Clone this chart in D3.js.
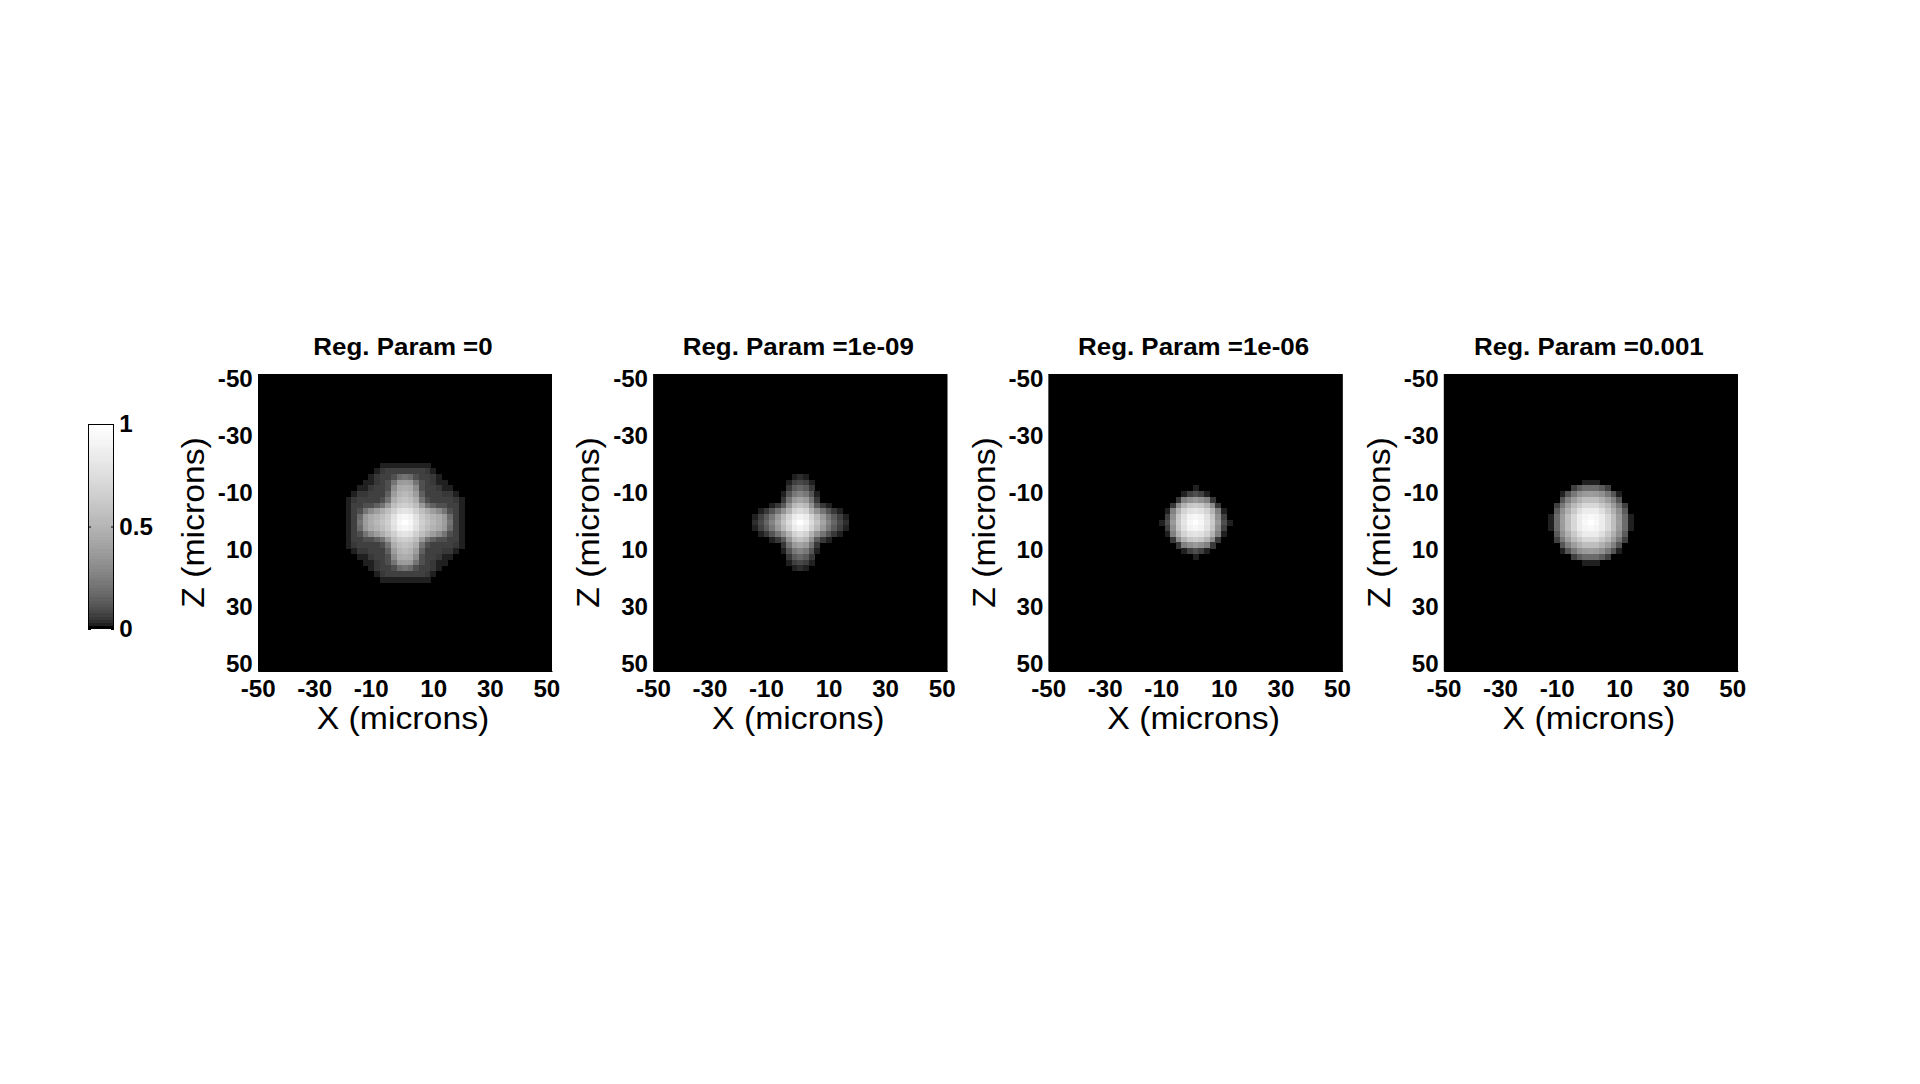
<!DOCTYPE html>
<html><head><meta charset="utf-8">
<script src="https://cdn.jsdelivr.net/npm/d3@7"></script>
<style>
html,body{margin:0;padding:0;background:#fff;}
svg{display:block;}
text{font-family:"Liberation Sans",Arial,Helvetica,sans-serif;}
</style></head><body>
<svg id="chart" width="1920" height="1084"></svg>
<script>
// ---------------- data ----------------
const regParams = ["0", "1e-09", "1e-06", "0.001"];
const axisTicks = [-50, -30, -10, 10, 30, 50];
const colorbarTicks = [0, 0.5, 1];
const imageExtent = [-52, 52];          // microns covered by each image
const cellCenters = [-20,-18,-16,-14,-12,-10,-8,-6,-4,-2,0,2,4,6,8,10,12,14,16,18,20];
const cellSize = 2;                      // microns per cell
// intensity (percent of max), rows = Z from -20 to 20, cols = X from -20 to 20; zero elsewhere
const psfRegZero = [
 [0,0,0,0,0,0,1,1,2,2,2,2,2,1,1,0,0,0,0,0,0],
 [0,0,0,0,0,1,4,6,6,7,7,7,6,6,4,1,0,0,0,0,0],
 [0,0,0,0,1,4,6,7,10,18,20,18,10,7,6,4,1,0,0,0,0],
 [0,0,0,1,2,5,6,9,20,36,38,36,20,9,6,5,2,1,0,0,0],
 [0,0,1,2,4,6,7,10,30,44,46,44,30,10,7,6,4,2,1,0,0],
 [0,1,4,5,6,6,7,14,38,49,52,49,38,14,7,6,6,5,4,1,0],
 [1,4,6,6,7,7,9,20,46,55,58,55,46,20,9,7,7,6,6,4,1],
 [1,6,7,9,10,14,20,36,55,64,67,64,55,36,20,14,10,9,7,6,1],
 [2,6,10,20,30,38,46,55,67,77,81,77,67,55,46,38,30,20,10,6,2],
 [2,7,18,36,44,49,55,64,77,90,94,90,77,64,55,49,44,36,18,7,2],
 [2,7,20,38,46,52,58,67,81,94,100,94,81,67,58,52,46,38,20,7,2],
 [2,7,18,36,44,49,55,64,77,90,94,90,77,64,55,49,44,36,18,7,2],
 [2,6,10,20,30,38,46,55,67,77,81,77,67,55,46,38,30,20,10,6,2],
 [1,6,7,9,10,14,20,36,55,64,67,64,55,36,20,14,10,9,7,6,1],
 [1,4,6,6,7,7,9,20,46,55,58,55,46,20,9,7,7,6,6,4,1],
 [0,1,4,5,6,6,7,14,38,49,52,49,38,14,7,6,6,5,4,1,0],
 [0,0,1,2,4,6,7,10,30,44,46,44,30,10,7,6,4,2,1,0,0],
 [0,0,0,1,2,5,6,9,20,36,38,36,20,9,6,5,2,1,0,0,0],
 [0,0,0,0,1,4,6,7,10,18,20,18,10,7,6,4,1,0,0,0,0],
 [0,0,0,0,0,1,4,6,6,7,7,7,6,6,4,1,0,0,0,0,0],
 [0,0,0,0,0,0,1,1,2,2,2,2,2,1,1,0,0,0,0,0,0]
];
const psfReg1e9 = [
 [0,0,0,0,0,0,0,0,0,0,0,0,0,0,0,0,0,0,0,0,0],
 [0,0,0,0,0,0,0,0,0,0,0,0,0,0,0,0,0,0,0,0,0],
 [0,0,0,0,0,0,0,0,0,2,3,2,0,0,0,0,0,0,0,0,0],
 [0,0,0,0,0,0,0,0,1,6,8,6,1,0,0,0,0,0,0,0,0],
 [0,0,0,0,0,0,0,0,5,13,16,13,5,0,0,0,0,0,0,0,0],
 [0,0,0,0,0,0,0,1,11,23,27,23,11,1,0,0,0,0,0,0,0],
 [0,0,0,0,0,0,0,5,20,36,41,36,20,5,0,0,0,0,0,0,0],
 [0,0,0,0,0,1,5,12,34,53,58,53,34,12,5,1,0,0,0,0,0],
 [0,0,0,1,5,11,20,34,49,69,74,69,49,34,20,11,5,1,0,0,0],
 [0,0,2,6,13,23,36,53,69,85,90,85,69,53,36,23,13,6,2,0,0],
 [0,0,3,8,16,27,41,58,74,90,100,90,74,58,41,27,16,8,3,0,0],
 [0,0,2,6,13,23,36,53,69,85,90,85,69,53,36,23,13,6,2,0,0],
 [0,0,0,1,5,11,20,34,49,69,74,69,49,34,20,11,5,1,0,0,0],
 [0,0,0,0,0,1,5,12,34,53,58,53,34,12,5,1,0,0,0,0,0],
 [0,0,0,0,0,0,0,5,20,36,41,36,20,5,0,0,0,0,0,0,0],
 [0,0,0,0,0,0,0,1,11,23,27,23,11,1,0,0,0,0,0,0,0],
 [0,0,0,0,0,0,0,0,5,13,16,13,5,0,0,0,0,0,0,0,0],
 [0,0,0,0,0,0,0,0,1,6,8,6,1,0,0,0,0,0,0,0,0],
 [0,0,0,0,0,0,0,0,0,2,3,2,0,0,0,0,0,0,0,0,0],
 [0,0,0,0,0,0,0,0,0,0,0,0,0,0,0,0,0,0,0,0,0],
 [0,0,0,0,0,0,0,0,0,0,0,0,0,0,0,0,0,0,0,0,0]
];
const psfReg1e6 = [
 [0,0,0,0,0,0,0,0,0,0,0,0,0,0,0,0,0,0,0,0,0],
 [0,0,0,0,0,0,0,0,0,0,0,0,0,0,0,0,0,0,0,0,0],
 [0,0,0,0,0,0,0,0,0,0,0,0,0,0,0,0,0,0,0,0,0],
 [0,0,0,0,0,0,0,0,0,0,0,0,0,0,0,0,0,0,0,0,0],
 [0,0,0,0,0,0,0,0,0,0,1,0,0,0,0,0,0,0,0,0,0],
 [0,0,0,0,0,0,0,0,1,7,9,7,1,0,0,0,0,0,0,0,0],
 [0,0,0,0,0,0,0,4,25,32,36,32,25,4,0,0,0,0,0,0,0],
 [0,0,0,0,0,0,4,30,49,61,64,61,49,30,4,0,0,0,0,0,0],
 [0,0,0,0,0,1,25,49,69,77,81,77,69,49,25,1,0,0,0,0,0],
 [0,0,0,0,0,7,32,61,77,90,94,90,77,61,32,7,0,0,0,0,0],
 [0,0,0,0,1,9,36,64,81,94,100,94,81,64,36,9,1,0,0,0,0],
 [0,0,0,0,0,7,32,61,77,90,94,90,77,61,32,7,0,0,0,0,0],
 [0,0,0,0,0,1,25,49,69,77,81,77,69,49,25,1,0,0,0,0,0],
 [0,0,0,0,0,0,4,30,49,61,64,61,49,30,4,0,0,0,0,0,0],
 [0,0,0,0,0,0,0,4,25,32,36,32,25,4,0,0,0,0,0,0,0],
 [0,0,0,0,0,0,0,0,1,7,9,7,1,0,0,0,0,0,0,0,0],
 [0,0,0,0,0,0,0,0,0,0,1,0,0,0,0,0,0,0,0,0,0],
 [0,0,0,0,0,0,0,0,0,0,0,0,0,0,0,0,0,0,0,0,0],
 [0,0,0,0,0,0,0,0,0,0,0,0,0,0,0,0,0,0,0,0,0],
 [0,0,0,0,0,0,0,0,0,0,0,0,0,0,0,0,0,0,0,0,0],
 [0,0,0,0,0,0,0,0,0,0,0,0,0,0,0,0,0,0,0,0,0]
];
const psfReg1e3 = [
 [0,0,0,0,0,0,0,0,0,0,0,0,0,0,0,0,0,0,0,0,0],
 [0,0,0,0,0,0,0,0,0,0,0,0,0,0,0,0,0,0,0,0,0],
 [0,0,0,0,0,0,0,0,0,0,0,0,0,0,0,0,0,0,0,0,0],
 [0,0,0,0,0,0,0,0,0,1,1,1,0,0,0,0,0,0,0,0,0],
 [0,0,0,0,0,0,0,6,12,17,18,17,12,6,0,0,0,0,0,0,0],
 [0,0,0,0,0,1,11,22,31,36,38,36,31,22,11,1,0,0,0,0,0],
 [0,0,0,0,0,11,25,38,48,55,56,55,48,38,25,11,0,0,0,0,0],
 [0,0,0,0,6,22,38,52,62,71,72,71,62,52,38,22,6,0,0,0,0],
 [0,0,0,0,12,31,48,62,76,85,86,85,76,62,48,31,12,0,0,0,0],
 [0,0,0,1,17,36,55,71,85,92,96,92,85,71,55,36,17,1,0,0,0],
 [0,0,0,1,18,38,56,72,86,96,100,96,86,72,56,38,18,1,0,0,0],
 [0,0,0,1,17,36,55,71,85,92,96,92,85,71,55,36,17,1,0,0,0],
 [0,0,0,0,12,31,48,62,76,85,86,85,76,62,48,31,12,0,0,0,0],
 [0,0,0,0,6,22,38,52,62,71,72,71,62,52,38,22,6,0,0,0,0],
 [0,0,0,0,0,11,25,38,48,55,56,55,48,38,25,11,0,0,0,0,0],
 [0,0,0,0,0,1,11,22,31,36,38,36,31,22,11,1,0,0,0,0,0],
 [0,0,0,0,0,0,0,6,12,17,18,17,12,6,0,0,0,0,0,0,0],
 [0,0,0,0,0,0,0,0,0,1,1,1,0,0,0,0,0,0,0,0,0],
 [0,0,0,0,0,0,0,0,0,0,0,0,0,0,0,0,0,0,0,0,0],
 [0,0,0,0,0,0,0,0,0,0,0,0,0,0,0,0,0,0,0,0,0],
 [0,0,0,0,0,0,0,0,0,0,0,0,0,0,0,0,0,0,0,0,0]
];
const panelGrids = [psfRegZero, psfReg1e9, psfReg1e6, psfReg1e3];

// ---------------- layout ----------------
const svg = d3.select("#chart");
const firstLeft = 258, panelStep = 395.3, panelW = 294, panelTop = 374, panelH = 297;
const tickFont = 23, tickStretch = 1.05;
const titleFont = 24, titleStretch = 1.08;
const labelFont = 31, labelStretch = 1.09;
const nLevels = 64;

// MATLAB-like quantised colormap (square-root gray)
const grayLevel = v => {
  const k = Math.max(0, Math.min(nLevels - 1, Math.round(v * (nLevels - 1))));
  return Math.round(255 * Math.sqrt(k / (nLevels - 1)));
};
const grayColor = v => { const g = grayLevel(v); return `rgb(${g},${g},${g})`; };

function styleTicks(sel) {
  sel.attr("font-size", tickFont)
     .attr("font-family", '"Liberation Sans", Arial, sans-serif')
     .attr("font-weight", "bold");
}

panelGrids.forEach((grid, p) => {
  const left = firstLeft + p * panelStep;
  const x = d3.scaleLinear().domain(imageExtent).range([left, left + panelW]);
  const y = d3.scaleLinear().domain(imageExtent).range([panelTop, panelTop + panelH]);
  const g = svg.append("g").attr("class", "panel");

  // background (zero intensity) of the image
  g.append("rect")
    .attr("x", x(imageExtent[0])).attr("y", y(imageExtent[0]))
    .attr("width", x(imageExtent[1]) - x(imageExtent[0]))
    .attr("height", y(imageExtent[1]) - y(imageExtent[0]))
    .attr("fill", grayColor(0));

  const cells = [];
  grid.forEach((row, i) => row.forEach((val, j) => {
    if (val > 0) cells.push({ x: cellCenters[j], z: cellCenters[i], v: val / 100 });
  }));
  g.append("g").selectAll("rect").data(cells).join("rect")
    .attr("x", d => x(d.x - cellSize / 2))
    .attr("y", d => y(d.z - cellSize / 2))
    .attr("width", d => x(d.x + cellSize / 2) - x(d.x - cellSize / 2) + 0.4)
    .attr("height", d => y(d.z + cellSize / 2) - y(d.z - cellSize / 2) + 0.4)
    .attr("fill", d => grayColor(d.v))
    .attr("shape-rendering", "crispEdges");

  // x axis
  const gx = g.append("g").attr("transform", `translate(0,${panelTop + panelH})`)
    .call(d3.axisBottom(x).tickValues(axisTicks).tickSize(0).tickPadding(0).tickFormat(d => String(d)));
  styleTicks(gx);
  gx.select(".domain").attr("stroke", "#000");
  gx.selectAll(".tick text").attr("y", 26).attr("dy", null)
    .attr("dx", d => d < 0 ? "-0.25em" : null)
    .attr("transform", `scale(${tickStretch},1)`);

  // y axis
  const gy = g.append("g").attr("transform", `translate(${left},0)`)
    .call(d3.axisLeft(y).tickValues(axisTicks).tickSize(0).tickPadding(5).tickFormat(d => String(d)));
  styleTicks(gy);
  gy.select(".domain").attr("stroke", "#000");
  gy.selectAll(".tick text").attr("dy", "0.28em")
    .attr("transform", `scale(${tickStretch},1)`);

  // right/top box edges
  g.append("path")
    .attr("d", `M${x(imageExtent[0])},${y(imageExtent[0]) + 0.5}H${x(imageExtent[1]) - 0.5}V${y(imageExtent[1])}`)
    .attr("fill", "none").attr("stroke", "#000");

  const cx = left + panelW / 2, cy = panelTop + panelH / 2;
  // title
  g.append("text")
    .attr("transform", `translate(${cx - 2},355) scale(${titleStretch},1)`)
    .attr("text-anchor", "middle").attr("font-size", titleFont).attr("font-weight", "bold")
    .text("Reg. Param =" + regParams[p]);
  // axis labels
  g.append("text")
    .attr("transform", `translate(${cx - 2},729) scale(${labelStretch},1)`)
    .attr("text-anchor", "middle").attr("font-size", labelFont)
    .text("X (microns)");
  g.append("text")
    .attr("transform", `translate(${left - 54},${cy}) rotate(-90) scale(${labelStretch},1)`)
    .attr("text-anchor", "middle").attr("font-size", labelFont)
    .text("Z (microns)");
});

// ---------------- colorbar ----------------
const cbLeft = 88, cbW = 26, cbTop = 424, cbBottom = 629;
const cb = d3.scaleLinear().domain([0, 1]).range([cbBottom, cbTop]);
const cbg = svg.append("g").attr("class", "colorbar");
cbg.selectAll("rect.band").data(d3.range(nLevels)).join("rect")
  .attr("class", "band")
  .attr("x", cbLeft)
  .attr("y", k => cb((k + 1) / nLevels))
  .attr("width", cbW)
  .attr("height", k => cb(k / nLevels) - cb((k + 1) / nLevels) + 0.4)
  .attr("fill", k => grayColor(k / (nLevels - 1)))
  .attr("shape-rendering", "crispEdges");
cbg.append("rect").attr("x", cbLeft + 0.5).attr("y", cbTop + 0.5)
  .attr("width", cbW - 1).attr("height", cbBottom - cbTop - 1)
  .attr("fill", "none").attr("stroke", "#000");
const cbr = cbg.append("g").attr("transform", `translate(${cbLeft + cbW},0)`)
  .call(d3.axisRight(cb).tickValues(colorbarTicks).tickSize(-3).tickPadding(5).tickFormat(d => String(d)));
styleTicks(cbr);
cbr.select(".domain").remove();
cbr.selectAll(".tick text").attr("dy", "0.34em").attr("transform", `scale(${tickStretch},1)`);
const cbl = cbg.append("g").attr("transform", `translate(${cbLeft},0)`)
  .call(d3.axisLeft(cb).tickValues(colorbarTicks).tickSize(-3).tickFormat(""));
cbl.select(".domain").remove();
</script>
</body></html>
